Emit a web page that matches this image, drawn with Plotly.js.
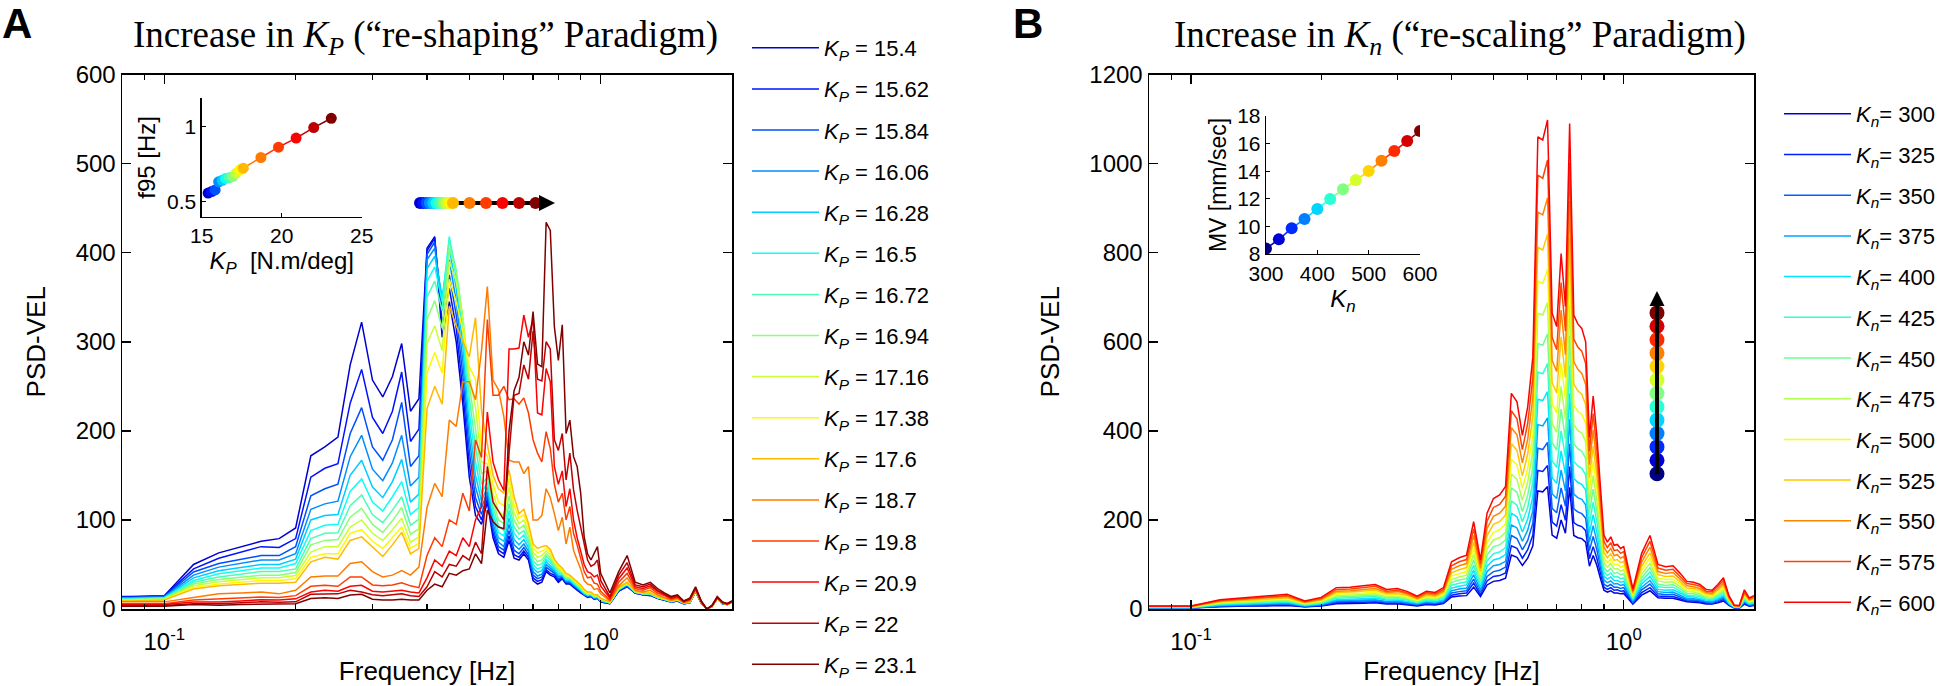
<!DOCTYPE html>
<html><head><meta charset="utf-8">
<script src="https://cdn.plot.ly/plotly-3.0.1.min.js"></script>
<style>html,body{margin:0;padding:0;background:#fff;}#chart{width:1944px;height:686px;}</style>
</head><body><div id="chart"></div>
<script>
// ================= DATA =================
// Panel A: frequency bins [Hz]
const freqA = [0.0667,0.0833,0.1,0.1167,0.1333,0.15,0.1667,0.1833,0.2,0.2167,0.2333,0.25,0.2667,0.2833,0.3,0.3167,0.3333,0.35,0.3667,0.3833,0.4,0.4167,0.4333,0.45,0.4667,0.4833,0.5,0.5167,0.5333,0.55,0.5667,0.5833,0.6,0.6167,0.6333,0.65,0.6667,0.6833,0.7,0.7167,0.7333,0.75,0.7667,0.7833,0.8,0.8167,0.8333,0.85,0.8667,0.8833,0.9,0.9167,0.9333,0.95,0.9667,0.9833,1.0,1.05,1.1,1.15,1.2,1.25,1.3,1.35,1.4,1.45,1.5,1.55,1.6,1.65,1.7,1.75,1.8,1.85,1.9,1.95,2.0];
const kpValues = [15.4,15.62,15.84,16.06,16.28,16.5,16.72,16.94,17.16,17.38,17.6,18.7,19.8,20.9,22,23.1];
const f95Values = [0.557,0.567,0.578,0.632,0.642,0.655,0.66,0.668,0.69,0.712,0.723,0.794,0.863,0.923,0.993,1.055];

const psdA_15_40 = [14,14,15,50,63,70,76,79,91,172,182,193,274,322,257,238,261,298,222,236,405,418,305,345,300,230,148,105,95,120,80,62,58,77,57,55,62,55,32,28,30,42,38,36,30,34,28,28,24,21,18,15,13,14,11,12,8, 6,20,25,18,16,15,12,10,8,9,6,7,20,7,0,3,12,6,5,8];
const psdA_15_62 = [13.5,13.5,14.5,45,57,64,70,69,79,148,158,163,231,269,215,197,222,266,188,202,402,416,320,360,315,245,162,115,100,124,85,66,62,82,61,58,65,58,35,31,33,44,40,38,32,35,29,29,25,22,19,16,14,14,11,12,8, 6,20,26,18,16,16,12,10,8,9,6,7,20,7,0,3,12,6,5,8];
const psdA_15_84 = [13,13,14,41.5,51,56,60,60,70,127,135,140,197,226,182,167,190,232,160,172,398,412,335,375,330,262,177,125,106,128,90,70,66,88,66,62,69,61,38,34,36,47,43,40,34,36,30,30,26,23,20,16,14,15,12,13,9, 7,21,26,18,16,16,12,10,8,9,6,7,20,7,0,3,12,6,5,8];
const psdA_16_06 = [12.5,12.5,13.5,38,47,51,55,55,62,112,118,121,171,195,157,144,164,195,138,148,392,405,345,392,345,278,192,137,113,132,96,75,70,95,72,67,73,65,42,37,39,50,46,42,36,37,31,31,27,24,20,17,15,15,12,13,9, 7,21,27,19,17,16,13,11,8,10,6,7,20,7,0,3,12,6,5,8];
const psdA_16_28 = [12,12,13,35,43,47,50,50,56,100,105,106,150,167,137,125,143,168,120,129,382,396,350,405,360,295,207,150,121,137,102,80,76,102,78,72,78,69,46,41,43,53,49,44,38,38,32,32,28,25,21,17,15,16,13,13,9, 7,22,27,19,17,17,13,11,8,10,6,7,20,7,0,3,12,6,5,8];
const psdA_16_50 = [11.5,11.5,12.5,32,39.5,43,46,46,51,88,94,95,132,146,120,110,126,143,106,114,368,384,345,418,372,310,222,165,130,142,108,86,82,110,85,78,83,73,50,45,47,56,52,46,40,39,33,33,29,26,22,18,16,16,13,14,10, 7,22,28,19,17,17,13,11,9,10,7,8,20,8,0,3,12,7,5,8];
const psdA_16_72 = [11,11,12,30,36,39,42,42,45,79,85,85.5,116,128,106,97,111,126,94,101,350,368,335,415,380,322,238,182,140,148,115,93,88,118,92,84,88,77,54,49,51,59,55,48,42,40,34,34,30,27,23,19,16,17,14,14,10, 7,22,28,19,17,17,13,11,9,10,7,8,21,8,0,3,12,7,5,8];
const psdA_16_94 = [10.5,10.5,11.5,28,33,36,38,38,41,72,77,78,103,113,95,86,99,114,84,90,325,346,315,405,378,328,252,202,152,155,122,100,96,127,100,90,94,82,59,53,55,62,58,50,44,41,35,35,31,28,24,19,17,17,14,15,11, 7,23,29,19,17,17,13,11,9,10,7,8,21,8,0,3,12,7,5,8];
const psdA_17_16 = [10,10,11,26,30.5,33,35,35,37.5,64,70,70,92,100,85,77,89,102,75,81,298,318,290,390,368,325,262,226,165,163,130,110,105,137,108,96,100,87,64,58,60,65,61,52,46,42,36,36,32,29,25,20,17,18,15,15,11, 8,23,29,20,18,18,14,12,9,11,7,8,21,8,0,3,12,7,5,8];
const psdA_17_38 = [9.5,9.5,10.5,24,28,30.5,32,32,34,58,62,62,85,89,76,68,80,92,68,74,265,288,265,370,345,312,272,258,180,172,140,120,116,147,117,102,106,92,69,63,65,68,64,54,48,44,38,37,33,30,26,21,18,18,15,16,12, 8,24,30,20,18,18,14,12,9,11,7,8,21,8,0,3,12,7,5,8];
const psdA_17_60 = [9,9,10,22.5,26,28,29,29,30,53,58,56,77,81,70,59,72,86,62,68,225,250,230,340,318,300,283,327,222,185,150,135,130,156,126,107,112,96,73,68,70,71,67,56,50,46,40,38,34,31,27,22,19,19,16,16,12, 8,24,30,20,18,18,14,12,9,11,7,8,21,8,0,3,12,7,5,8];
const psdA_18_70 = [8,8,8,13,17,18,19,17,21,36,37,37,51,53,42,36,38,43,38,47,114,141,126,212,205,255,255,235,290,362,257,246,216,167,165,165,152,160,100,100,105,135,125,107,88,103,73,92,66,55,45,32,28,27,22,23,17, 9,26,35,21,19,21,16,13,10,12,7,9,21,8,0,3,12,7,5,8];
const psdA_19_80 = [6,6,6,10,11.4,12.5,13.5,13,15,25.5,26.6,25.5,36,36,27,26,27,29.5,26,24,60,80,70,100,95,130,110,190,170,325,240,240,250,235,236,230,237,220,190,175,165,199,180,140,120,130,100,115,85,72,58,42,35,36,29,28,20, 10,30,40,23,21,24,18,15,11,13,8,10,22,8,0,3,12,7,5,8];
const psdA_20_90 = [5,5,5,7.8,7.8,9,10.5,10,11.4,19,21,20,25.5,26.6,20,19,20,21,19,18,35,55,48,65,60,80,70,100,115,221,165,145,133,292,292,293,330,305,325,220,218,270,255,160,140,155,115,135,100,80,65,50,42,40,36,38,26, 12,34,46,25,23,26,20,16,12,14,8,11,23,8,0,4,13,7,6,8];
const psdA_22_00 = [4,4,4,6,6,7,8,7.5,8,16.5,17,17,21,19,16,15,16,17,15,14,25,42,36,50,48,60,55,75,62,160,120,110,100,175,240,242,274,258,312,258,256,300,292,190,178,197,145,175,134,111,92,73,55,48,50,55,32, 14,38,52,27,25,28,21,17,13,15,9,11,24,9,0,4,13,8,6,9];
const psdA_23_10 = [3,3,3,5,4.3,5,5.3,5,6,11.7,12.6,11.7,15.6,16.5,11,10,10,11,10,10,21,28,25,40,38,43,45,62,51,111,98,92,90,200,245,260,300,285,334,275,272,434,425,317,279,319,197,212,171,160,130,81,62,55,62,70,40, 18,42,60,30,27,30,23,18,14,16,9,12,25,9,0,4,14,8,6,9];

// Panel B
const freqB = [0.0667,0.0833,0.1,0.1167,0.1333,0.15,0.1667,0.1833,0.2,0.2167,0.2333,0.25,0.2667,0.2833,0.3,0.3167,0.3333,0.35,0.3667,0.3833,0.4,0.4167,0.4333,0.45,0.4667,0.4833,0.5,0.5167,0.5333,0.55,0.5667,0.5833,0.6,0.6167,0.6333,0.65,0.6667,0.6833,0.7,0.7167,0.7333,0.75,0.7667,0.7833,0.8,0.8167,0.8333,0.85,0.8667,0.8833,0.9,0.9167,0.9333,0.95,0.9667,0.9833,1.0,1.05,1.1,1.15,1.2,1.25,1.3,1.35,1.4,1.45,1.5,1.55,1.6,1.65,1.7,1.75,1.8,1.85,1.9,1.95,2.0];
const knValues = [300,325,350,375,400,425,450,475,500,525,550,575,600];
const mvValues = [8.39,9.06,9.86,10.54,11.26,11.99,12.69,13.36,14.01,14.76,15.46,16.19,16.91];

const psdB_300 = [2,2,2,5,7,7,8,5,7,12,12,13,14,11,12,10,7,10,9,12,27,29,30,49,28,54,62,64,69,121,116,98,114,142,265,263,275,166,159,200,170,273,165,160,158,150,96,120,98,69,42,38,41,36,36,34,35,11,31,41,25,24,24,20,16,15,14,11,11,14,18,8,2,2,11,6,8];
const psdB_325 = [2,2,2,6,8,9,10,5,8,14,14,15,16,13,13,11,9,12,11,14,31,34,36,58,32,63,73,75,81,142,136,114,133,166,311,309,322,195,186,234,199,320,194,188,185,176,113,140,114,81,49,44,48,42,43,40,41,13,37,48,29,28,28,23,18,18,16,13,12,16,21,9,3,2,13,7,9];
const psdB_350 = [2,2,2,7,9,10,11,6,9,16,17,18,19,15,16,13,10,14,13,16,36,39,41,67,37,73,84,87,94,165,158,133,154,193,361,358,374,226,216,272,231,371,225,218,214,204,131,163,133,94,56,51,55,49,49,46,48,15,43,56,34,32,33,27,21,20,19,15,14,19,24,10,3,3,15,9,10];
const psdB_375 = [3,3,3,8,10,11,13,7,10,19,19,20,21,17,18,15,11,16,14,19,41,45,47,77,43,84,97,100,107,189,182,152,177,221,414,411,429,259,248,312,265,426,258,250,246,234,150,187,152,107,65,59,63,56,57,53,55,18,49,64,39,37,38,31,24,23,21,17,16,21,27,12,4,3,17,10,12];
const psdB_400 = [3,3,3,9,12,13,15,8,12,21,22,23,24,20,20,17,13,18,16,21,47,51,54,87,49,96,110,114,122,215,207,173,202,252,471,468,488,295,282,355,302,484,293,284,280,267,171,212,173,122,74,67,72,64,64,60,62,20,56,73,44,42,43,36,28,27,24,20,19,24,31,13,4,4,19,11,13];
const psdB_425 = [4,4,4,11,13,15,17,9,13,24,25,26,28,22,23,20,15,20,19,24,53,58,61,98,55,108,124,128,138,243,233,196,228,284,532,528,551,333,318,400,341,547,331,321,316,301,193,240,196,138,83,75,81,72,73,68,70,23,63,83,50,48,49,40,31,30,28,22,21,28,35,15,5,4,22,13,15];
const psdB_450 = [4,4,4,12,15,16,19,10,15,27,28,29,31,25,26,22,16,23,21,27,60,65,68,110,62,121,140,144,155,272,262,219,255,318,596,592,618,374,357,449,382,613,371,360,354,338,217,269,219,155,93,84,91,80,82,77,79,25,70,93,56,53,55,45,35,34,31,25,24,31,39,17,5,5,24,14,17];
const psdB_475 = [4,4,4,13,16,18,21,11,16,30,31,33,34,28,29,24,18,25,23,30,66,72,76,123,69,135,155,160,172,303,291,244,285,355,664,660,688,416,397,500,426,683,414,401,395,376,241,300,244,172,104,94,102,90,91,85,88,28,78,103,63,60,61,50,39,38,34,28,26,34,44,19,6,5,27,16,19];
const psdB_500 = [5,5,5,15,18,20,23,13,18,33,34,36,38,31,32,27,20,28,26,33,74,80,84,136,76,149,172,178,191,336,323,271,315,393,736,731,762,461,440,554,472,757,458,444,437,417,267,332,271,191,115,104,112,99,101,94,97,31,87,115,69,66,67,56,43,42,38,31,29,38,49,21,6,6,30,17,21];
const psdB_525 = [5,5,5,16,20,22,25,14,20,37,38,40,42,34,35,30,22,31,28,37,81,88,93,150,84,165,190,196,211,371,356,299,348,433,812,806,841,508,485,611,520,834,505,490,482,459,295,366,299,211,127,115,124,109,111,104,107,34,96,126,77,73,74,61,47,46,42,34,32,42,54,23,7,6,33,19,23];
const psdB_550 = [6,6,6,18,22,24,28,15,22,40,41,44,46,37,39,33,24,34,31,40,89,97,102,165,92,181,208,215,231,407,391,328,381,476,891,885,923,558,533,671,571,916,555,538,529,504,324,402,328,231,139,126,136,120,122,114,118,38,105,139,84,80,82,67,52,50,46,37,35,46,59,25,8,7,36,21,25];
const psdB_575 = [6,6,6,19,24,27,30,17,24,44,45,48,51,40,42,36,27,37,34,44,97,106,111,180,101,197,228,235,253,445,427,358,417,520,974,967,1008,610,582,733,624,1001,606,588,579,551,354,439,358,253,152,138,149,131,133,125,129,41,115,152,92,87,89,73,57,55,51,40,39,51,64,28,8,7,39,23,28];
const psdB_600 = [7,7,7,21,26,29,33,18,26,48,49,52,55,44,46,39,29,40,37,48,106,115,121,196,110,215,248,256,275,484,465,390,454,566,1060,1053,1098,664,634,798,679,1090,660,640,630,600,385,478,390,275,166,150,162,143,145,136,140,45,125,165,100,95,97,80,62,60,55,44,42,55,70,30,9,8,43,25,30];

// tick labels
const freqTickVals = [0.1, 1];
const freqTickText = ['10<sup>-1</sup>', '10<sup>0</sup>'];
const freqMinorTicks = [0.09,0.2,0.3,0.4,0.5,0.6,0.7,0.8,0.9,2];
const insetATicksX = [15,20,25];
const insetATicksY = [0.5,1];
const insetBTicksX = [300,400,500,600];

// ================= STYLE =================
const colorsA = ['rgb(0,0,209)','rgb(0,17,255)','rgb(0,79,255)','rgb(0,142,255)','rgb(0,204,255)','rgb(12,255,243)','rgb(74,255,181)','rgb(137,255,118)','rgb(200,255,55)','rgb(255,248,0)','rgb(255,185,0)','rgb(255,123,0)','rgb(255,60,0)','rgb(253,0,0)','rgb(190,0,0)','rgb(128,0,0)'];
const colorsB = ['rgb(0,0,219)','rgb(0,31,255)','rgb(0,98,255)','rgb(0,164,255)','rgb(0,231,255)','rgb(43,255,212)','rgb(110,255,145)','rgb(176,255,79)','rgb(243,255,12)','rgb(255,200,0)','rgb(255,133,0)','rgb(255,67,0)','rgb(255,0,0)'];
const dotColorsB = ['rgb(0,0,128)','rgb(0,0,212)','rgb(0,43,255)','rgb(0,128,255)','rgb(0,212,255)','rgb(43,255,212)','rgb(128,255,128)','rgb(212,255,43)','rgb(255,212,0)','rgb(255,128,0)','rgb(255,43,0)','rgb(212,0,0)','rgb(128,0,0)'];

const W = 1944, H = 686;
const px = v => v / W;
const py = v => 1 - v / H;
const SANS = 'Liberation Sans, Arial, Helvetica, sans-serif';
const SERIF = 'Liberation Serif, Times New Roman, serif';

const seriesA = [psdA_15_40,psdA_15_62,psdA_15_84,psdA_16_06,psdA_16_28,psdA_16_50,psdA_16_72,psdA_16_94,psdA_17_16,psdA_17_38,psdA_17_60,psdA_18_70,psdA_19_80,psdA_20_90,psdA_22_00,psdA_23_10];
const seriesB = [psdB_300,psdB_325,psdB_350,psdB_375,psdB_400,psdB_425,psdB_450,psdB_475,psdB_500,psdB_525,psdB_550,psdB_575,psdB_600];

const traces = [];
kpValues.forEach((kp, i) => traces.push({
  type: 'scatter', mode: 'lines', x: freqA, y: seriesA[i], xaxis: 'x', yaxis: 'y',
  name: '<i>K</i><sub><i>P</i></sub> = ' + kp, legend: 'legend', legendgroup: 'a' + i,
  line: {color: colorsA[i], width: 1.5}, hoverinfo: 'skip'
}));
knValues.forEach((kn, i) => traces.push({
  type: 'scatter', mode: 'lines', x: freqB, y: seriesB[i], xaxis: 'x2', yaxis: 'y2',
  name: '<i>K</i><sub><i>n</i></sub>= ' + kn, legend: 'legend2', legendgroup: 'b' + i,
  line: {color: colorsB[i], width: 1.5}, hoverinfo: 'skip'
}));
// inset A: f95 vs Kp
for (let i = 0; i < kpValues.length - 1; i++) {
  traces.push({type: 'scatter', mode: 'lines', x: [kpValues[i], kpValues[i+1]], y: [f95Values[i], f95Values[i+1]],
    xaxis: 'x3', yaxis: 'y3', showlegend: false, line: {color: colorsA[i+1], width: 1.5}, hoverinfo: 'skip'});
}
traces.push({type: 'scatter', mode: 'markers', x: kpValues, y: f95Values, xaxis: 'x3', yaxis: 'y3', showlegend: false,
  marker: {color: colorsA, size: 11, line: {width: 0}}, hoverinfo: 'skip'});
// inset B: MV vs Kn
for (let i = 0; i < knValues.length - 1; i++) {
  traces.push({type: 'scatter', mode: 'lines', x: [knValues[i], knValues[i+1]], y: [mvValues[i], mvValues[i+1]],
    xaxis: 'x4', yaxis: 'y4', showlegend: false, line: {color: dotColorsB[i+1], width: 1.5}, hoverinfo: 'skip'});
}
traces.push({type: 'scatter', mode: 'markers', x: knValues, y: mvValues, xaxis: 'x4', yaxis: 'y4', showlegend: false,
  marker: {color: dotColorsB, size: 12, line: {width: 0}}, hoverinfo: 'skip'});
// arrow glyphs (Kp along a horizontal arrow, Kn along a vertical arrow)
traces.push({type: 'scatter', mode: 'markers', x: kpValues, y: kpValues.map(() => 0.5), xaxis: 'x5', yaxis: 'y5',
  showlegend: false, marker: {color: colorsA, size: 12, line: {width: 0}}, hoverinfo: 'skip'});
traces.push({type: 'scatter', mode: 'markers', x: knValues.map(() => 0.5), y: knValues, xaxis: 'x6', yaxis: 'y6',
  showlegend: false, marker: {color: dotColorsB, size: 15, line: {width: 0}}, hoverinfo: 'skip'});

const tickFont = {family: SANS, size: 24, color: '#000'};
const titleFont = {family: SANS, size: 26, color: '#000'};
function mainX(domain, anchor) {
  return {domain, anchor, type: 'log', range: [Math.log10(0.08), Math.log10(2)],
    tickmode: 'array', tickvals: freqTickVals, ticktext: freqTickText,
    ticks: 'inside', ticklen: 9, tickwidth: 1.5, tickcolor: '#000', ticklabelstandoff: 11,
    minor: {tickmode: 'array', tickvals: freqMinorTicks, ticks: 'inside', ticklen: 5, tickwidth: 1.2, tickcolor: '#000', showgrid: false},
    showline: true, linecolor: '#000', linewidth: 1.5, mirror: 'allticks', showgrid: false, zeroline: false,
    tickfont: tickFont, title: {text: 'Frequency [Hz]', font: titleFont, standoff: 8}};
}
function mainY(domain, anchor, rng, dt) {
  return {domain, anchor, range: rng, dtick: dt, tick0: 0,
    ticks: 'inside', ticklen: 9, tickwidth: 1.5, tickcolor: '#000',
    showline: true, linecolor: '#000', linewidth: 1.5, mirror: 'allticks', showgrid: false, zeroline: false,
    tickfont: tickFont, title: {text: 'PSD-VEL', font: titleFont, standoff: 22}};
}
function insetAxis(domain, anchor, extra) {
  return Object.assign({domain, anchor, ticks: 'inside', ticklen: 4, tickwidth: 1.2, tickcolor: '#000',
    showline: true, linecolor: '#000', linewidth: 1.3, showgrid: false, zeroline: false,
    tickfont: {family: SANS, size: 21, color: '#000'}}, extra);
}
const hidden = (domain, anchor, rng) => ({domain, anchor, range: rng, visible: false, fixedrange: true});

const layout = {
  width: W, height: H, margin: {l: 0, r: 0, t: 0, b: 0},
  paper_bgcolor: '#fff', plot_bgcolor: 'rgba(0,0,0,0)',
  font: {family: SANS, color: '#000'},
  xaxis: mainX([px(122), px(732)], 'y'),
  yaxis: mainY([py(609), py(74.5)], 'x', [0, 600], 100),
  xaxis2: mainX([px(1149), px(1754)], 'y2'),
  yaxis2: mainY([py(609), py(74.5)], 'x2', [0, 1200], 200),
  xaxis3: insetAxis([px(201.7), px(361.7)], 'y3', {range: [15, 25], tickmode: 'array', tickvals: insetATicksX,
    title: {text: '<i>K</i><sub><i>P</i></sub>  [N.m/deg]', font: {family: SANS, size: 24}, standoff: 4}}),
  yaxis3: insetAxis([py(216.7), py(98)], 'x3', {range: [0.4, 1.19], tickmode: 'array', tickvals: insetATicksY,
    title: {text: 'f95 [Hz]', font: {family: SANS, size: 24}, standoff: 4}}),
  xaxis4: insetAxis([px(1266), px(1420)], 'y4', {range: [300, 600], tickmode: 'array', tickvals: insetBTicksX,
    title: {text: '<i>K</i><sub><i>n</i></sub>', font: {family: SANS, size: 24}, standoff: 6}}),
  yaxis4: insetAxis([py(254), py(116)], 'x4', {range: [8, 18], dtick: 2,
    title: {text: 'MV [mm/sec]', font: {family: SANS, size: 23}, standoff: 4}}),
  xaxis5: hidden([px(414), px(564)], 'y5', [15, 25]),
  yaxis5: hidden([py(213), py(193)], 'x5', [0, 1]),
  xaxis6: hidden([px(1647), px(1667)], 'y6', [0, 1]),
  yaxis6: hidden([py(500.5), py(286.1)], 'x6', [250, 650]),
  legend: {x: px(747), xanchor: 'left', y: py(32), yanchor: 'top', bgcolor: 'rgba(0,0,0,0)', borderwidth: 0,
    font: {family: SANS, size: 22, color: '#000'}, tracegroupgap: 9.5, itemwidth: 67, traceorder: 'grouped'},
  legend2: {x: px(1779), xanchor: 'left', y: py(93), yanchor: 'top', bgcolor: 'rgba(0,0,0,0)', borderwidth: 0,
    font: {family: SANS, size: 22, color: '#000'}, tracegroupgap: 9.1, itemwidth: 67, traceorder: 'grouped'},
  shapes: [
    {type: 'line', xref: 'x5', yref: 'y5', x0: kpValues[0] - 0.25, x1: kpValues[kpValues.length-1] + 0.5, y0: 0.5, y1: 0.5,
     line: {color: '#000', width: 4}, layer: 'below'}
  ],
  annotations: [
    {text: '<b>A</b>', xref: 'paper', yref: 'paper', x: px(17), y: py(23), xanchor: 'center', yanchor: 'middle', height: 44, valign: 'middle',
     showarrow: false, font: {family: SANS, size: 42, color: '#000'}},
    {text: '<b>B</b>', xref: 'paper', yref: 'paper', x: px(1028), y: py(23), xanchor: 'center', yanchor: 'middle', height: 44, valign: 'middle',
     showarrow: false, font: {family: SANS, size: 42, color: '#000'}},
    {text: 'Increase in <i>K</i><sub><i>P</i></sub> (“re-shaping” Paradigm)', xref: 'paper', yref: 'paper', x: px(425), y: py(38),
     xanchor: 'center', yanchor: 'middle', showarrow: false, font: {family: SERIF, size: 37, color: '#000'}},
    {text: 'Increase in <i>K</i><sub><i>n</i></sub> (“re-scaling” Paradigm)', xref: 'paper', yref: 'paper', x: px(1460), y: py(38),
     xanchor: 'center', yanchor: 'middle', showarrow: false, font: {family: SERIF, size: 37, color: '#000'}},
    {text: '', xref: 'x5', yref: 'y5', axref: 'x5', ayref: 'y5', x: kpValues[kpValues.length-1] + 1.3, y: 0.5,
     ax: kpValues[kpValues.length-1] + 0.45, ay: 0.5, showarrow: true, arrowhead: 2, arrowsize: 0.8, arrowwidth: 4, arrowcolor: '#000'},
    {text: '', xref: 'x6', yref: 'y6', axref: 'x6', ayref: 'y6', x: 0.5, y: 641, ax: 0.5, ay: knValues[0] - 4,
     showarrow: true, arrowhead: 2, arrowsize: 0.75, arrowwidth: 4, arrowcolor: '#000'}
  ]
};

Plotly.newPlot('chart', traces, layout, {staticPlot: true, displayModeBar: false});
</script></body></html>
